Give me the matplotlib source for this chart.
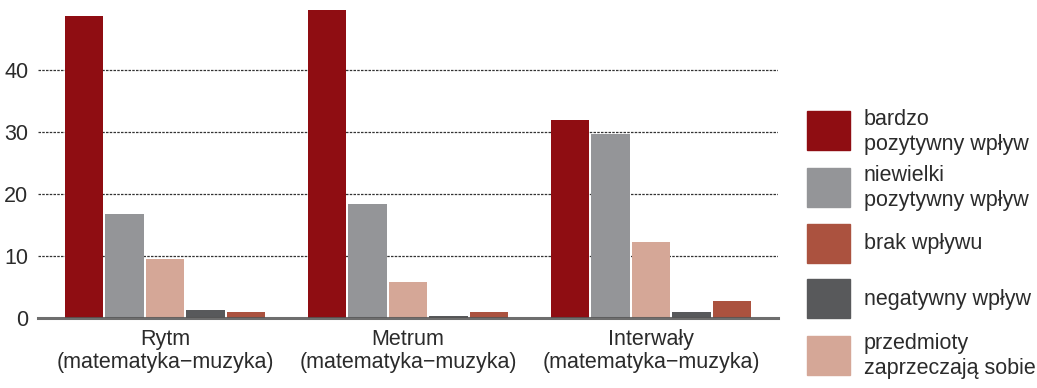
import numpy as np
import matplotlib.pyplot as plt
from matplotlib.patches import Rectangle

plt.rcParams['font.family'] = ['Liberation Sans', 'DejaVu Sans']

# kategorie i wartości (w kolejności słupków w grupie)
kategorie = ['Rytm\n(matematyka\u2212muzyka)',
             'Metrum\n(matematyka\u2212muzyka)',
             'Interwały\n(matematyka\u2212muzyka)']
bardzo_pozytywny = [48.7, 49.7, 31.9]
niewielki_pozytywny = [16.8, 18.4, 29.7]
zaprzeczaja = [9.5, 5.8, 12.3]
negatywny = [1.3, 0.3, 1.0]
brak = [1.0, 1.0, 2.7]

serie = [bardzo_pozytywny, niewielki_pozytywny, zaprzeczaja, negatywny, brak]
kolory = ['#8f0d12', '#949598', '#d5a797', '#58595b', '#ab523f']

# legenda w innej kolejności niż słupki
legenda = [('bardzo\npozytywny wpływ', '#8f0d12'),
           ('niewielki\npozytywny wpływ', '#949598'),
           ('brak wpływu', '#ab523f'),
           ('negatywny wpływ', '#58595b'),
           ('przedmioty\nzaprzeczają sobie', '#d5a797')]

txt = '#2b2b2b'
fs = 15.5

fig = plt.figure(figsize=(10.37, 3.88), dpi=100)
ax = fig.add_axes([0.0366, 0.180, 0.7137, 0.820])

x = np.arange(len(kategorie))
krok = 0.1667
szer = 0.158
for i, (s, c) in enumerate(zip(serie, kolory)):
    ax.bar(x + (i - 2) * krok, s, width=szer, color=c, zorder=2)

ax.set_xlim(-0.523, 2.523)
ax.set_ylim(0, 51.3)
ax.set_yticks([0, 10, 20, 30, 40])
ax.set_xticks(x)
ax.set_xticklabels(kategorie, fontsize=fs, color=txt, linespacing=1.1)
ax.tick_params(axis='both', length=0, labelsize=fs, colors=txt)
ax.tick_params(axis='x', pad=8)
ax.tick_params(axis='y', pad=7)

for v in [10, 20, 30, 40]:
    ax.axhline(v, color='#333333', lw=0.9, ls=(0, (2, 1)), zorder=1)
ax.axhline(0, color='#555555', lw=2.2, alpha=0.85, zorder=3, clip_on=False)

for sp in ax.spines.values():
    sp.set_visible(False)

# legenda rysowana ręcznie
W, H = 1037, 388
ys = [131, 187, 243, 298, 355]
for (lab, c), yc in zip(legenda, ys):
    fig.add_artist(Rectangle((807 / W, 1 - (yc + 19.5) / H), 43 / W, 39 / H,
                             transform=fig.transFigure, color=c))
    fig.text(864 / W, 1 - (yc + 1) / H, lab, fontsize=fs, color=txt,
             va='center', ha='left', linespacing=1.3)

fig.savefig('out.png', dpi=100)
